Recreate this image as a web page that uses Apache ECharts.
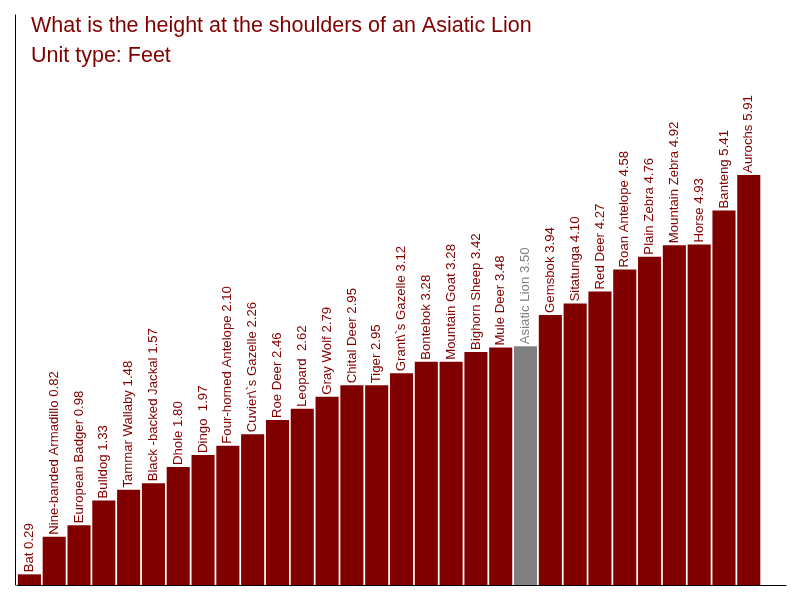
<!DOCTYPE html>
<html>
<head>
<meta charset="utf-8">
<script src="https://cdn.jsdelivr.net/npm/echarts@6/dist/echarts.min.js"></script>
<style>
  html, body { margin: 0; padding: 0; background: #fff; }
  #chart { width: 800px; height: 600px; }
</style>
</head>
<body>
<div id="chart"></div>
<script>
// animals, sorted by shoulder height (feet)
var animals = ['Bat', 'Nine-banded Armadillo', 'European Badger', 'Bulldog', 'Tammar Wallaby',
  'Black -backed Jackal', 'Dhole', 'Dingo ', 'Four-horned Antelope', 'Cuvier\\`s Gazelle',
  'Roe Deer', 'Leopard ', 'Gray Wolf', 'Chital Deer', 'Tiger', 'Grant\\`s Gazelle', 'Bontebok',
  'Mountain Goat', 'Bighorn Sheep', 'Mule Deer', 'Asiatic Lion', 'Gemsbok', 'Sitatunga',
  'Red Deer', 'Roan Antelope', 'Plain Zebra', 'Mountain Zebra', 'Horse', 'Banteng', 'Aurochs'];
var heights = [0.29, 0.82, 0.98, 1.33, 1.48, 1.57, 1.80, 1.97, 2.10, 2.26,
  2.46, 2.62, 2.79, 2.95, 2.95, 3.12, 3.28, 3.28, 3.42, 3.48,
  3.50, 3.94, 4.10, 4.27, 4.58, 4.76, 4.92, 4.93, 5.41, 5.91];
var highlight = 'Asiatic Lion';

var red = '#800000';
var grey = '#808080';

var chart = echarts.init(document.getElementById('chart'));

var option = {
  animation: false,
  title: {
    text: 'What is the height at the shoulders of an Asiatic Lion',
    subtext: 'Unit type: Feet',
    left: 26,
    top: 10,
    itemGap: 8,
    textStyle: { color: red, fontSize: 21.5, fontWeight: 'normal', fontFamily: 'Liberation Sans', lineHeight: 22 },
    subtextStyle: { color: red, fontSize: 21.5, fontFamily: 'Liberation Sans', lineHeight: 22 }
  },
  grid: { left: 17, right: 14, top: 15, bottom: 15 },
  xAxis: {
    type: 'category',
    data: animals,
    max: animals.length, // one empty slot after the last bar
    axisLine: { lineStyle: { color: '#000', width: 1 } },
    axisTick: { show: false },
    axisLabel: { show: false }
  },
  yAxis: {
    type: 'value',
    min: 0.14,
    max: 8.16,
    offset: 2,
    axisLine: { show: true, lineStyle: { color: '#000', width: 1 } },
    axisTick: { show: false },
    axisLabel: { show: false },
    splitLine: { show: false }
  },
  series: [{
    type: 'bar',
    barCategoryGap: '7%',
    data: heights.map(function (v, i) {
      var c = animals[i] === highlight ? grey : red;
      return { value: v, itemStyle: { color: c }, label: { color: c } };
    }),
    label: {
      show: true,
      position: 'top',
      rotate: 90,
      align: 'left',
      verticalAlign: 'middle',
      distance: 2,
      fontSize: 13.2,
      fontFamily: 'Liberation Sans',
      formatter: function (p) {
        return p.name + ' ' + p.value.toFixed(2);
      }
    }
  }]
};

chart.setOption(option);
</script>
</body>
</html>
